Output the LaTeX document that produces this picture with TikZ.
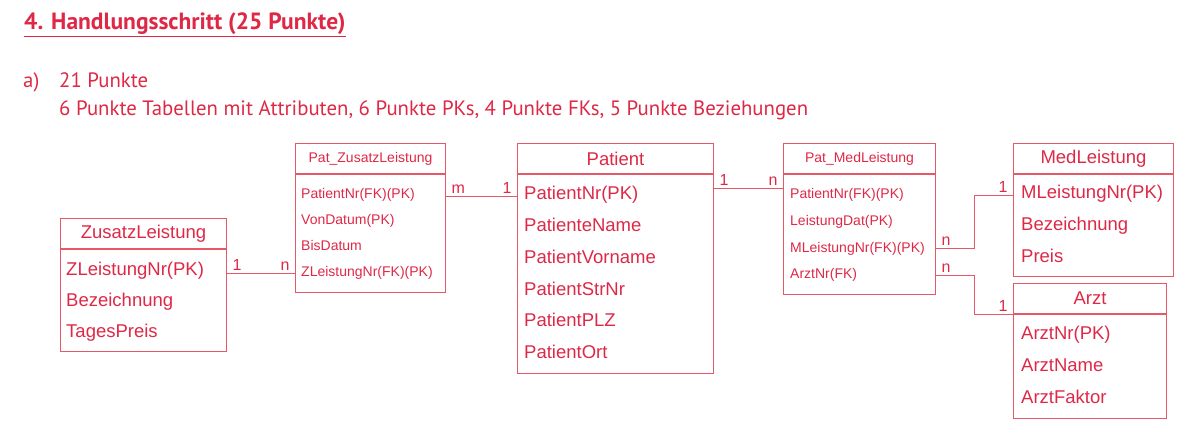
\documentclass[tikz,border=0pt]{standalone}
\usepackage{fontspec}
\setmainfont{PT Sans}
\newfontfamily\erfont{Liberation Sans}
\usetikzlibrary{positioning}
\definecolor{erred}{RGB}{222,40,70}
\definecolor{erline}{RGB}{228,88,104}
\newcommand{\bigtab}{\erfont\fontsize{18.5}{20}\selectfont}
\newcommand{\smalltab}{\erfont\fontsize{14}{16}\selectfont}
\tikzset{
  tabhead/.style={draw=erline, line width=1pt, minimum height=30pt, inner sep=0pt, anchor=north west, text=erred},
  tabbody/.style={draw=erline, line width=1pt, inner sep=0pt},
  attr/.style={anchor=west, inner sep=0pt, text height=0.72em, text depth=0pt, text=erred},
  rel/.style={draw=erline, line width=1pt},
  card/.style={inner ysep=2pt, inner xsep=5pt, text=erred, font=\erfont\fontsize{16}{17}\selectfont},
  task/.style={anchor=base west, inner sep=0pt, text=erred, font=\fontsize{20.8}{24}\selectfont}
}

\begin{document}
\begin{tikzpicture}[x=1pt, y=-1pt]
  \useasboundingbox (0,0) rectangle (1184,431);
  % heading and task text
  \node[anchor=base west, inner sep=0pt, text=erred, font=\bfseries\fontsize{23.5}{26}\selectfont] (head) at (24,30) {\underline{4. Handlungsschritt (25 Punkte)}};
  \node[task] (part) at (23,87) {a)};
  \node[task] (pts) at (59,87) {21 Punkte};
  \node[task] (split) at (59,115) {6 Punkte Tabellen mit Attributen, 6 Punkte PKs, 4 Punkte FKs, 5 Punkte Beziehungen};

  % tables
  \node[tabhead, minimum width=166pt, font=\bigtab] (zl-title) at (60,218) {ZusatzLeistung};
  \node[tabbody, minimum width=166pt, minimum height=102pt, below=0pt of zl-title] (zl) {};
  \foreach \t [count=\i] in {ZLeistungNr(PK), Bezeichnung, TagesPreis}
    \node[attr, font=\bigtab] (zl-\i) at ([xshift=6pt, yshift=-23pt-(\i-1)*31pt]zl.north west) {\t};

  \node[tabhead, minimum width=150pt, font=\smalltab] (pz-title) at (295,143) {Pat\_ZusatzLeistung};
  \node[tabbody, minimum width=150pt, minimum height=118pt, below=0pt of pz-title] (pz) {};
  \foreach \t [count=\i] in {PatientNr(FK)(PK), VonDatum(PK), BisDatum, ZLeistungNr(FK)(PK)}
    \node[attr, font=\smalltab] (pz-\i) at ([xshift=6pt, yshift=-21pt-(\i-1)*26pt]pz.north west) {\t};

  \node[tabhead, minimum width=196pt, font=\bigtab] (pa-title) at (517,143) {Patient};
  \node[tabbody, minimum width=196pt, minimum height=199pt, below=0pt of pa-title] (pa) {};
  \foreach \t [count=\i] in {PatientNr(PK), PatienteName, PatientVorname, PatientStrNr, PatientPLZ, PatientOrt}
    \node[attr, font=\bigtab] (pa-\i) at ([xshift=7pt, yshift=-22pt-(\i-1)*31.8pt]pa.north west) {\t};

  \node[tabhead, minimum width=152pt, font=\smalltab] (pm-title) at (783,143) {Pat\_MedLeistung};
  \node[tabbody, minimum width=152pt, minimum height=120pt, below=0pt of pm-title] (pm) {};
  \foreach \t [count=\i] in {PatientNr(FK)(PK), LeistungDat(PK), MLeistungNr(FK)(PK), ArztNr(FK)}
    \node[attr, font=\smalltab] (pm-\i) at ([xshift=7pt, yshift=-21pt-(\i-1)*26.7pt]pm.north west) {\t};

  \node[tabhead, minimum width=160pt, font=\bigtab] (ml-title) at (1013,143) {MedLeistung};
  \node[tabbody, minimum width=160pt, minimum height=102pt, below=0pt of ml-title] (ml) {};
  \foreach \t [count=\i] in {MLeistungNr(PK), Bezeichnung, Preis}
    \node[attr, font=\bigtab] (ml-\i) at ([xshift=8pt, yshift=-21pt-(\i-1)*32pt]ml.north west) {\t};

  \node[tabhead, minimum width=153pt, font=\bigtab] (az-title) at (1013,283) {Arzt};
  \node[tabbody, minimum width=153pt, minimum height=104pt, below=0pt of az-title] (az) {};
  \foreach \t [count=\i] in {ArztNr(PK), ArztName, ArztFaktor}
    \node[attr, font=\bigtab] (az-\i) at ([xshift=8pt, yshift=-22pt-(\i-1)*32pt]az.north west) {\t};

  % relationships
  \draw[rel] (zl.east |- pz-4) -- node[card, at start, above right] {1} node[card, at end, above left] {n} (pz.west |- pz-4);
  \draw[rel] (pz.east |- pa-1) -- node[card, at start, above right] {m} node[card, at end, above left] {1} (pa.west |- pa-1);
  \draw[rel] ([yshift=-14pt]pa-title.south east) -- node[card, at start, above right] {1} node[card, at end, above left] {n} ([yshift=-14pt]pm-title.south west);
  \draw[rel] (pm.east |- pm-3) -- node[card, at start, above right] {n} ++(38,0) |- node[card, at end, above left] {1} (ml.west |- ml-1);
  \draw[rel] (pm.east |- pm-4) -- node[card, at start, above right] {n} ++(38,0) |- node[card, at end, above left] {1} (az-title.south west);
\end{tikzpicture}
\end{document}
